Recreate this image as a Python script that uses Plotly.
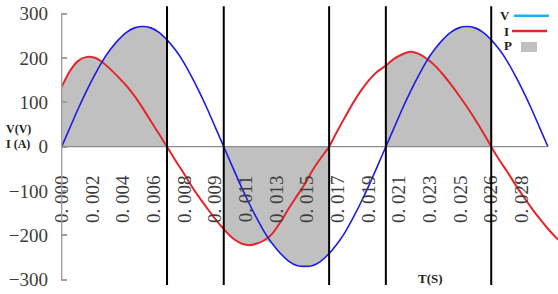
import numpy as np
import plotly.graph_objects as go

# ---------------- data ----------------
step_s = 0.0005  # sampling step of the series (s)
V_values = [0, 42, 84, 123, 159, 192, 219, 241, 258, 268, 271, 268, 258, 241, 219, 192, 159, 123, 84, 42, 0,
            -42, -84, -123, -159, -192, -219, -241, -258, -268, -270, -268, -258, -241, -219, -192, -159, -123, -84, -42, 0,
            42, 84, 123, 159, 192, 219, 241, 258, 268, 271, 268, 258, 241, 219, 192, 159, 123, 84, 42, 0]
I_values = [135, 170, 193, 202, 201, 191, 175, 157, 137, 114, 87, 58, 29, 0,
            -30, -58, -88, -115, -140, -164, -186, -205, -217, -222, -219, -211, -196, -170, -140, -112, -84, -52, -25, 0,
            35, 68, 100, 128, 152, 170, 183, 198, 208, 214, 210, 199, 184, 164, 141, 116, 90, 62, 32, 0,
            -30, -57, -86, -113, -139, -163, -185, -205, -220]
t_V = [k * step_s for k in range(len(V_values))]
t_I = [k * step_s for k in range(len(I_values))]

tick_labels = ["0. 000", "0. 002", "0. 004", "0. 006", "0. 008", "0. 009", "0. 011", "0. 013",
               "0. 015", "0. 017", "0. 019", "0. 021", "0. 023", "0. 025", "0. 026", "0. 028"]
tick_step = 0.001893
zero_cross_times = [0.0065, 0.010, 0.0165, 0.020, 0.0265]
y_ticks = [-300, -200, -100, 0, 100, 200, 300]

# ---------------- P area (same-sign regions) ----------------
px, py = [], []
run = []
n = len(V_values)
for k in range(n):
    v, i = V_values[k], I_values[k]
    inside = (v >= 0 and i >= 0) or (v <= 0 and i <= 0)
    if inside:
        run.append(k)
    if (not inside or k == n - 1) and run:
        if len(run) > 1:
            px.append(t_V[run[0]]); py.append(0)
            for j in run:
                vv, ii = V_values[j], I_values[j]
                py.append(max(vv, ii) if vv + ii > 0 else min(vv, ii))
                px.append(t_V[j])
            px.append(t_V[run[-1]]); py.append(0)
            px.append(None); py.append(None)
        run = []

# ---------------- geometry ----------------
W, H = 558, 294
ml, mr, mt, mb = 61, 0, 5, 8
ppms = 16.21  # pixels per millisecond
x0 = -0.65 / ppms / 1000
x1 = x0 + (W - ml - mr) / ppms / 1000
ymin, ymax = -314.2, 319.6
pos0 = (0 - ymin) / (ymax - ymin)

def pxp(x):
    return (x - ml) / (W - ml - mr)

def pyp(y):
    return (H - mb - y) / (H - mt - mb)

serif = "Liberation Serif"
tick_font = dict(family=serif, size=19, color="#3c3c3c")

fig = go.Figure()
fig.add_trace(go.Scatter(x=px, y=py, mode="lines", fill="toself", fillcolor="#c0c0c0",
                         line=dict(width=0, color="#c0c0c0"), showlegend=False, hoverinfo="skip"))
fig.add_trace(go.Scatter(x=t_I, y=I_values, mode="lines",
                         line=dict(color="#e4262c", width=2, shape="spline", smoothing=0.6),
                         showlegend=False))
fig.add_trace(go.Scatter(x=t_V, y=V_values, mode="lines",
                         line=dict(color="#1c1ce6", width=1.6, shape="spline", smoothing=0.6),
                         showlegend=False))

shapes = []
shapes.append(dict(type="line", xref="x", yref="y", x0=t_V[0], x1=t_V[-1], y0=0, y1=0,
                   line=dict(color="#8c8c8c", width=1.2)))
shapes.append(dict(type="line", xref="x", yref="y", x0=0, x1=0, y0=y_ticks[0], y1=y_ticks[-1],
                   line=dict(color="#a0a0a0", width=1.5)))
for tc in zero_cross_times:
    shapes.append(dict(type="line", xref="x", yref="y", x0=tc, x1=tc, y0=-312, y1=317,
                       line=dict(color="black", width=2)))
# legend
shapes.append(dict(type="line", xref="paper", yref="paper", x0=pxp(514), x1=pxp(549),
                   y0=pyp(15.7), y1=pyp(15.7), line=dict(color="#1fb0ee", width=2.5)))
shapes.append(dict(type="line", xref="paper", yref="paper", x0=pxp(512), x1=pxp(547),
                   y0=pyp(31), y1=pyp(31), line=dict(color="#e4262c", width=2.5)))
shapes.append(dict(type="rect", xref="paper", yref="paper", x0=pxp(521), x1=pxp(537),
                   y0=pyp(52), y1=pyp(42), line=dict(width=0), fillcolor="#c0c0c0"))

def ann(text, x, y, size):
    return dict(text=text, x=pxp(x), y=pyp(y), xref="paper", yref="paper", showarrow=False,
                xanchor="center", yanchor="middle",
                font=dict(family=serif, size=size, color="#222222"))

annotations = [
    ann("<b>V</b>", 505, 15.7, 13),
    ann("<b>I</b>", 506, 31, 13),
    ann("<b>P</b>", 507.7, 45.7, 13),
    ann("<b>V(V)</b>", 18, 129, 12),
    ann("<b>I (A)</b>", 18, 144, 12),
    ann("<b>T(S)</b>", 430, 278, 13),
]

fig.update_layout(
    width=W, height=H, margin=dict(l=ml, r=mr, t=mt, b=mb),
    paper_bgcolor="white", plot_bgcolor="white", showlegend=False,
    shapes=shapes, annotations=annotations,
    xaxis=dict(range=[x0, x1], anchor="free", position=pos0,
               tickvals=[k * tick_step for k in range(len(tick_labels))], ticktext=tick_labels,
               tickangle=-90, ticks="", showline=False, showgrid=False, zeroline=False,
               ticklabelstandoff=24, tickfont=tick_font),
    yaxis=dict(range=[ymin, ymax], tickvals=y_ticks, ticks="inside", ticklen=6, tickcolor="#a0a0a0",
               tickwidth=1.5, showline=False, showgrid=False, zeroline=False,
               ticklabelstandoff=12, tickfont=tick_font),
)
fig.write_html("out.html")
